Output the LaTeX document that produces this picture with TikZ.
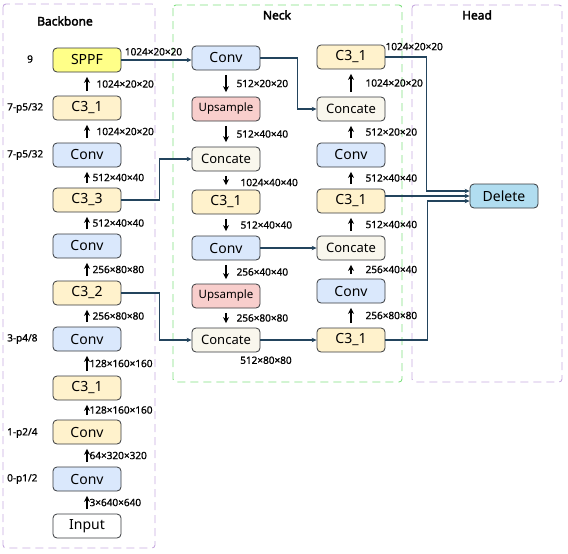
\documentclass[tikz,border=0pt]{standalone}
\usepackage{fontspec}
\setmainfont{Noto Sans}[AutoFakeBold = 2.5]
\newfontfamily\dimfont{Noto Sans}[FakeBold = 0.8]
\usepackage{xcolor}
\usetikzlibrary{arrows.meta,positioning,calc}

\definecolor{convblue}{HTML}{DAE8FC}
\definecolor{cyellow}{HTML}{FFF2CC}
\definecolor{sppfyellow}{HTML}{FFFF88}
\definecolor{upsred}{HTML}{F8CECC}
\definecolor{catgray}{HTML}{F9F7ED}
\definecolor{delblue}{HTML}{B1DDF0}
\definecolor{boxline}{HTML}{36393D}
\definecolor{linkcol}{HTML}{23445D}
\definecolor{framepurple}{HTML}{C7AADF}
\definecolor{framegreen}{HTML}{7FE07F}

\tikzset{
  blk/.style = {draw = boxline, rounded corners = 4pt, line width = .8pt,
    minimum width = 68pt, minimum height = 24pt, inner sep = 0pt,
    font = \fontsize{14}{16}\selectfont},
  conv/.style = {blk, fill = convblue},
  csblk/.style = {blk, fill = cyellow},
  sppfblk/.style = {blk, fill = sppfyellow},
  upsblk/.style = {blk, fill = upsred, font = \fontsize{11.5}{13}\selectfont},
  catblk/.style = {blk, fill = catgray, font = \fontsize{13}{15}\selectfont},
  inblk/.style = {blk, fill = white},
  delblk/.style = {blk, fill = delblue},
  dim/.style = {font = \dimfont\fontsize{10}{12}\selectfont, inner sep = 0pt},
  flow/.style = {-{Stealth[length = 6pt, width = 6pt]}, line width = 1.2pt,
    shorten < = 4.5pt, shorten > = 4.5pt},
  link/.style = {-{Stealth[length = 5pt, width = 4.5pt]}, draw = linkcol,
    line width = 1.1pt},
  frame/.style = {dashed, dash pattern = on 8pt off 5pt, line width = .9pt,
    rounded corners = 3pt},
  title/.style = {font = \bfseries\fontsize{12}{14}\selectfont}
}

\begin{document}
\begin{tikzpicture}[x = 1pt, y = -1pt]
    \useasboundingbox (0,0) rectangle (568,554);
    % Frames
    \draw[frame, framepurple] (3,4) rectangle (155,548);
    \draw[frame, framegreen] (173,5) rectangle (402,382);
    \draw[frame, framepurple] (412,5) rectangle (562,382);
    \node[title] (tback) at (65,21) {Backbone};
    \node[title] (tneck) at (277,15) {Neck};
    \node[title] (thead) at (477,15) {Head};

    % Backbone
    \node[inblk] (inp) at (87,526) {Input};
    \node[conv] (bconva) at (87,479) {Conv};
    \node[csblk] (bconvb) at (87,432) {Conv};
    \node[csblk] (bcsa) at (87,388) {C3\_1};
    \node[conv] (bconvc) at (87,339) {Conv};
    \node[csblk] (bcsb) at (87,293) {C3\_2};
    \node[conv] (bconvd) at (87,246) {Conv};
    \node[csblk] (bcsc) at (87,200) {C3\_3};
    \node[conv] (bconve) at (87,155) {Conv};
    \node[csblk] (bcsd) at (87,108) {C3\_1};
    \node[sppfblk] (sppf) at (87,60) {SPPF};
    \draw[flow] (inp.north) -- node[dim, right = 2pt] {3×640×640} (bconva.south);
    \draw[flow] (bconva.north) -- node[dim, right = 2pt] {64×320×320} (bconvb.south);
    \draw[flow] (bconvb.north) -- node[dim, right = 2pt] {128×160×160} (bcsa.south);
    \draw[flow] (bcsa.north) -- node[dim, right = 2pt] {128×160×160} (bconvc.south);
    \draw[flow] (bconvc.north) -- node[dim, right = 5pt] {256×80×80} (bcsb.south);
    \draw[flow] (bcsb.north) -- node[dim, right = 5pt] {256×80×80} (bconvd.south);
    \draw[flow] (bconvd.north) -- node[dim, right = 5pt] {512×40×40} (bcsc.south);
    \draw[flow] (bcsc.north) -- node[dim, right = 5pt] {512×40×40} (bconve.south);
    \draw[flow] (bconve.north) -- node[dim, right = 9pt] {1024×20×20} (bcsd.south);
    \draw[flow] (bcsd.north) -- node[dim, right = 9pt] {1024×20×20} (sppf.south);
        % Stage labels
    \node[dim, anchor = west] (lnine) at (27,59) {9};
    \node[dim, anchor = west] (lpa) at (7,108) {7-p5/32};
    \node[dim, anchor = west] (lpb) at (7,155) {7-p5/32};
    \node[dim, anchor = west] (lpc) at (7,339) {3-p4/8};
    \node[dim, anchor = west] (lpd) at (7,433) {1-p2/4};
    \node[dim, anchor = west] (lpe) at (7,479) {0-p1/2};

    % Neck, first column
    \node[conv] (nconva) at (226,58) {Conv};
    \node[upsblk] (nupsa) at (226,109) {Upsample};
    \node[catblk] (ncata) at (226,159) {Concate};
    \node[csblk] (ncsa) at (226,202) {C3\_1};
    \node[conv] (nconvb) at (226,248) {Conv};
    \node[upsblk] (nupsb) at (226,296) {Upsample};
    \node[catblk] (ncatb) at (226,340) {Concate};
    \draw[flow] (nconva.south) -- node[dim, right = 10pt] {512×20×20} (nupsa.north);
    \draw[flow] (nupsa.south) -- node[dim, right = 10pt] {512×40×40} (ncata.north);
    \draw[flow] (ncata.south) -- node[dim, right = 14pt, yshift = -2pt] {1024×40×40} (ncsa.north);
    \draw[flow] (ncsa.south) -- node[dim, right = 14pt] {512×40×40} (nconvb.north);
    \draw[flow] (nconvb.south) -- node[dim, right = 10pt] {256×40×40} (nupsb.north);
    \draw[flow] (nupsb.south) -- node[dim, right = 10pt] {256×80×80} (ncatb.north);
    \node[dim, anchor = north west] (lcatb) at ($(ncatb.south)+(14,4)$) {512×80×80};

    % Neck, second column
    \node[csblk] (ncsb) at (351,57) {C3\_1};
    \node[catblk] (ncatc) at (351,109) {Concate};
    \node[conv] (nconvc) at (351,155) {Conv};
    \node[csblk] (ncsc) at (351,201) {C3\_1};
    \node[catblk] (ncatd) at (351,248) {Concate};
    \node[conv] (nconvd) at (351,291) {Conv};
    \node[csblk] (ncsd) at (351,340) {C3\_1};
    \draw[flow] (ncsd.north) -- node[dim, right = 14pt] {256×80×80} (nconvd.south);
    \draw[flow] (nconvd.north) -- node[dim, right = 14pt] {256×40×40} (ncatd.south);
    \draw[flow] (ncatd.north) -- node[dim, right = 14pt] {512×40×40} (ncsc.south);
    \draw[flow] (ncsc.north) -- node[dim, right = 14pt] {512×40×40} (nconvc.south);
    \draw[flow] (nconvc.north) -- node[dim, right = 14pt] {512×20×20} (ncatc.south);
    \draw[flow] (ncatc.north) -- node[dim, right = 14pt] {1024×20×20} (ncsb.south);
    \node[dim, anchor = west] (lcsb) at ($(ncsb.north east)+(0,2)$) {1024×20×20};

    % Head
    \node[delblk] (del) at (504,196) {Delete};

    % Connections
    \draw[link] (sppf.east) -- node[dim, above = 4pt, xshift = -3pt] {1024×20×20} (sppf.east -| nconva.west);
    \draw[link] (bcsc.east) -- ++(38,0) |- (ncata.west);
    \draw[link] (bcsb.east) -- ++(38,0) |- (ncatb.west);
    \draw[link] (nconva.east) -- ++(37,0) |- (ncatc.west);
    \draw[link] (nconvb.east) -- (ncatd.west);
    \draw[link] (ncatb.east) -- (ncsd.west);
    \draw[link] (ncsb.east) -- ++(41,0) |- ($(del.west)+(0,-5)$);
    \draw[link] (ncsc.east |- del.west) -- (del.west);
    \draw[link] (ncsd.east) -- ++(42,0) |- ($(del.west)+(0,5)$);
  \end{tikzpicture}
\end{document}
